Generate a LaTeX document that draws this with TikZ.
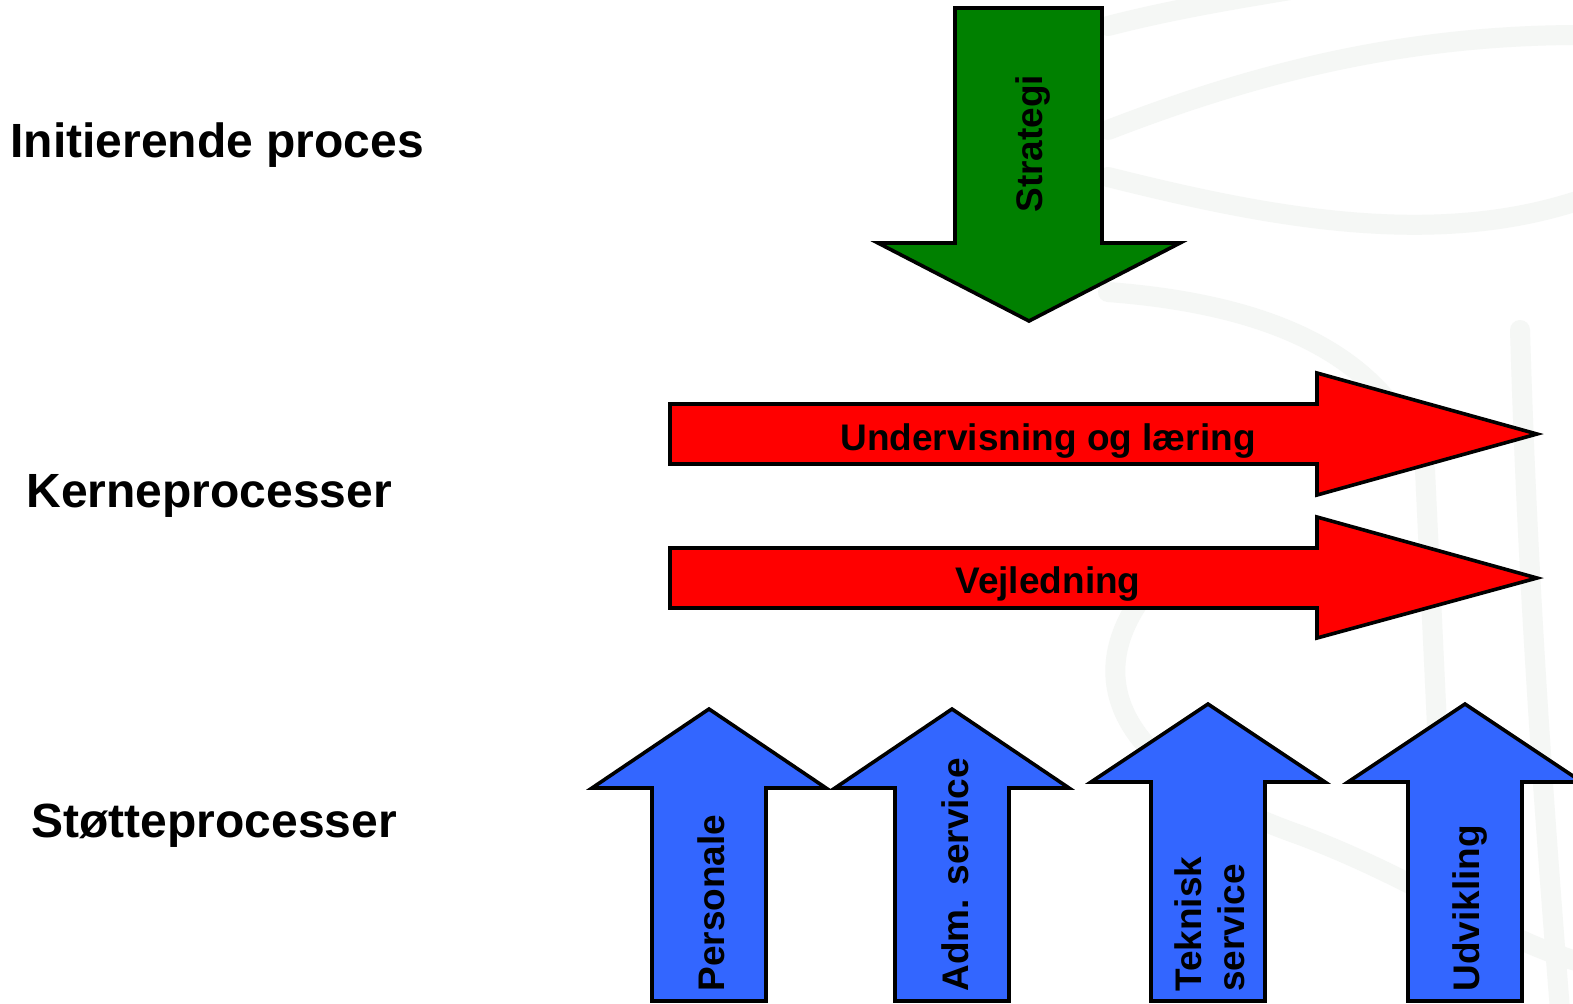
\documentclass[tikz,border=0pt]{standalone}
\usepackage{fontspec}
\setmainfont{Liberation Sans}
\definecolor{arrowgreen}{RGB}{0,128,0}
\definecolor{arrowred}{RGB}{255,0,0}
\definecolor{arrowblue}{RGB}{51,102,255}
\definecolor{watermark}{RGB}{245,247,245}
\begin{document}
\begin{tikzpicture}[x=0.5pt,y=-0.5pt,
  outline/.style={draw=black, line width=1.8pt, line join=miter, miter limit=10},
  wmband/.style={draw=watermark, line width=10pt, line cap=round},
  rowlabel/.style={font=\fontsize{24}{28}\selectfont\bfseries, inner sep=0pt, anchor=base west},
  arrowtext/.style={font=\fontsize{18.5}{21.5}\selectfont\bfseries, inner sep=0pt},
  uptext/.style={arrowtext, rotate=90, anchor=base west}]

% page
\fill[white] (0,0) rectangle (1573,1003);
\useasboundingbox (0,0) rectangle (1573,1003);
\clip (0,0) rectangle (1573,1003);

% faint logo watermark in the background
\draw[wmband] (1108,26) .. controls (1170,10) and (1230,0) .. (1290,-10);
\draw[wmband] (1108,130) .. controls (1250,75) and (1400,35) .. (1580,35);
\draw[wmband] (1108,177) .. controls (1260,215) and (1430,250) .. (1580,200);
\draw[wmband] (1108,292) .. controls (1280,305) and (1390,360) .. (1425,470) -- (1440,790);
\draw[wmband] (1520,330) .. controls (1525,500) and (1535,700) .. (1560,1010);
\draw[wmband] (1140,600) .. controls (1085,680) and (1115,770) .. (1300,835)
                         .. controls (1420,880) and (1500,940) .. (1580,962);

% initiating process
\draw[outline, fill=arrowgreen]
  (955,8) -- (1102,8) -- (1102,243) -- (1180,243) -- (1029,321)
  -- (878,243) -- (955,243) -- cycle;

% core processes
\draw[outline, fill=arrowred]
  (670,404) -- (1317,404) -- (1317,373) -- (1537,434) -- (1317,495)
  -- (1317,464) -- (670,464) -- cycle;
\draw[outline, fill=arrowred]
  (670,548) -- (1317,548) -- (1317,517) -- (1537,578) -- (1317,638)
  -- (1317,608) -- (670,608) -- cycle;

% support processes
\foreach \cx/\tip/\base in {709/709/788, 952/709/788, 1208/704/782, 1465/704/782}{
  \draw[outline, fill=arrowblue]
    (\cx-57,1001) -- (\cx-57,\base) -- (\cx-117,\base) -- (\cx,\tip)
    -- (\cx+117,\base) -- (\cx+57,\base) -- (\cx+57,1001) -- cycle;
}

% row labels
\node[rowlabel] (initiating) at (10,157) {Initierende proces};
\node[rowlabel] (core) at (26,507) {Kerneprocesser};
\node[rowlabel] (support) at (31,837) {Støtteprocesser};

% arrow captions
\node[uptext] (strategy) at (1042,213) {Strategi};
\node[arrowtext, anchor=base] (teaching) at (1048,450) {Undervisning og læring};
\node[arrowtext, anchor=base] (guidance) at (1048,593) {Vejledning};
\node[uptext] (staff) at (724,992) {Personale};
\node[uptext] (admin) at (968,992) {Adm. service};
\node[arrowtext, rotate=90, anchor=south west, align=left] (technical) at (1245,992) {Teknisk\\service};
\node[uptext] (development) at (1479,992) {Udvikling};
\end{tikzpicture}
\end{document}
